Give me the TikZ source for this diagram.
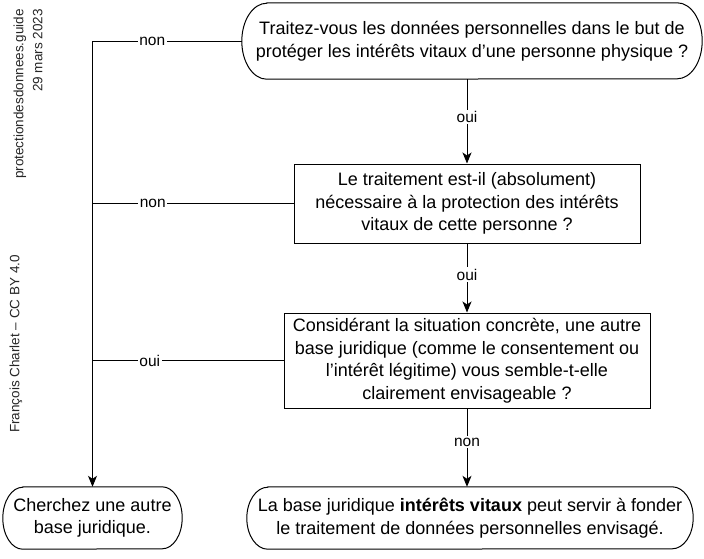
\documentclass[tikz,border=0pt]{standalone}
\usepackage{fontspec}
\setmainfont{Liberation Sans}
\usetikzlibrary{arrows.meta,calc}
\newcommand\stadiumdraw[3]{%
  \draw[outline] ([xshift=#2]#1.north west) -- ([xshift=-#2]#1.north east)
    arc[start angle=90,end angle=-90,x radius=#2,y radius=#3]
    -- ([xshift=#2]#1.south west)
    arc[start angle=270,end angle=90,x radius=#2,y radius=#3] -- cycle;}
\begin{document}
\begin{tikzpicture}[x=1pt,y=1pt,
  outline/.style={line width=1pt,black},
  boxnode/.style={draw,line width=1pt,rectangle,inner sep=0pt,align=center,
    font=\fontsize{18}{22.5}\selectfont},
  stadnode/.style={draw=none,rectangle,inner sep=0pt,align=center,
    font=\fontsize{18}{22.5}\selectfont},
  conn/.style={line width=1pt,-{Stealth[length=11pt,width=9pt,inset=3pt]}},
  lbl/.style={fill=white,inner sep=1.5pt,font=\fontsize{15.5}{18}\selectfont},
  side/.style={text=black!85,inner sep=0pt,font=\fontsize{13.5}{19}\selectfont}]
\useasboundingbox (0,0) rectangle (704,-558);

% nodes
\node[stadnode,minimum width=460,minimum height=76] (t) at (472,-41)
  {Traitez-vous les données personnelles dans le but de\\protéger les intérêts vitaux d’une personne physique ?};
\node[boxnode,minimum width=346,minimum height=79] (b2) at (467,-203.5)
  {Le traitement est-il (absolument)\\nécessaire à la protection des intérêts\\vitaux de cette personne ?};
\node[boxnode,minimum width=366,minimum height=95] (b3) at (467,-360.5)
  {Considérant la situation concrète, une autre\\base juridique (comme le consentement ou\\l’intérêt légitime) vous semble-t-elle\\clairement envisageable ?};
\node[stadnode,minimum width=446,minimum height=62] (br) at (470,-518)
  {La base juridique \textbf{intérêts vitaux} peut servir à fonder\\le traitement de données personnelles envisagé.};
\node[stadnode,minimum width=179,minimum height=62] (bl) at (92.5,-518)
  {Cherchez une autre\\base juridique.};

\stadiumdraw{t}{25}{38}
\stadiumdraw{br}{21}{31}
\stadiumdraw{bl}{20}{31}

% side texts
\node[side,rotate=90,anchor=east,align=right] (site) at (28,-9)
  {protectiondesdonnees.guide\\29 mars 2023};
\node[side,rotate=90] (auth) at (16,-344) {François Charlet – CC BY 4.0};

% connectors
\draw[conn] (t.south -| b2.north) -- node[lbl,pos=0.45]{oui} (b2.north);
\draw[conn] (b2.south) -- node[lbl,pos=0.45]{oui} (b3.north);
\draw[conn] (b3.south) -- node[lbl,pos=0.43]{non} (b3.south |- br.north);
\draw[conn] (t.west) -- node[lbl,pos=0.6]{non} (t.west -| bl.north) -- (bl.north);
\draw[line width=1pt] (b2.west) -- node[lbl,pos=0.70]{non} (b2.west -| bl.north);
\draw[line width=1pt] (b3.west) -- node[lbl,pos=0.70]{oui} (b3.west -| bl.north);
\end{tikzpicture}
\end{document}
